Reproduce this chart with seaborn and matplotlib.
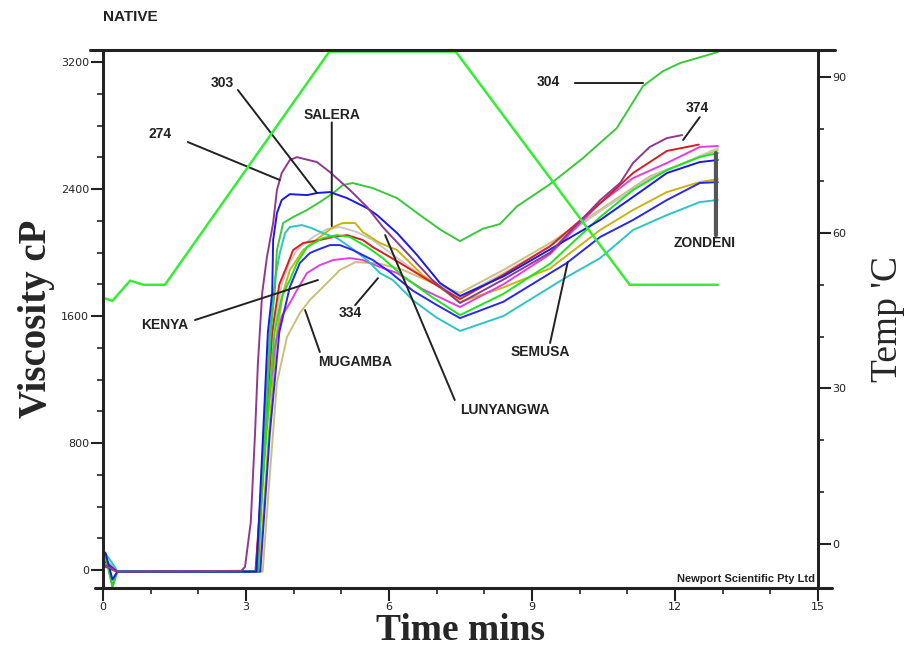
import matplotlib
matplotlib.use("Agg")
import matplotlib.pyplot as plt
import seaborn as sns
from matplotlib.ticker import MultipleLocator

# Viskositaet (cP) ueber Zeit (min)
t_274 = [0.05, 0.3, 2.9, 2.98, 3.1, 3.19, 3.25, 3.34, 3.44, 3.57, 3.65, 3.75, 3.92, 4.07, 4.49, 4.76, 5.18, 5.54, 5.87, 6.38, 6.9, 7.49, 8.4, 9.38, 10.43, 10.85, 11.12, 11.47, 11.83, 12.15]
v_274 = [30, -10, -5, 20, 300, 860, 1300, 1745, 1972, 2186, 2394, 2501, 2583, 2601, 2570, 2507, 2394, 2287, 2161, 1997, 1830, 1682, 1830, 2000, 2330, 2438, 2564, 2665, 2721, 2740]

t_303 = [0.05, 0.2, 0.3, 3.22, 3.36, 3.46, 3.55, 3.57, 3.65, 3.75, 3.92, 4.28, 4.49, 4.76, 5.12, 5.54, 5.75, 6.17, 6.59, 7.07, 7.49, 8.4, 9.38, 10.43, 11.12, 11.83, 12.52, 12.9]
v_303 = [110, -60, -10, -10, 860, 1500, 1745, 2079, 2249, 2331, 2368, 2362, 2375, 2381, 2343, 2280, 2236, 2123, 1984, 1808, 1726, 1850, 2020, 2205, 2350, 2501, 2570, 2583]

t_304 = [0.05, 0.2, 0.3, 3.25, 3.4, 3.52, 3.61, 3.65, 3.78, 3.99, 4.28, 4.55, 4.83, 5.03, 5.24, 5.66, 6.17, 6.65, 7.1, 7.49, 7.97, 8.33, 8.68, 9.38, 10.07, 10.78, 11.33, 11.75, 12.11, 12.9]
v_304 = [90, -110, -10, -10, 860, 1500, 1783, 2016, 2186, 2224, 2268, 2318, 2375, 2425, 2438, 2406, 2343, 2236, 2140, 2072, 2150, 2180, 2290, 2431, 2595, 2784, 3049, 3143, 3194, 3263]

t_cyan = [0.05, 0.25, 0.3, 3.25, 3.38, 3.5, 3.62, 3.71, 3.82, 3.92, 4.17, 4.38, 4.61, 4.91, 5.18, 5.54, 5.81, 6.08, 6.5, 7.0, 7.49, 8.4, 9.73, 10.43, 11.12, 11.83, 12.52, 12.9]
v_cyan = [105, 20, -10, -10, 860, 1500, 1850, 1997, 2123, 2161, 2173, 2154, 2123, 2091, 2035, 1953, 1871, 1827, 1700, 1590, 1506, 1600, 1846, 1965, 2142, 2236, 2318, 2331]

t_salera = [0.05, 0.3, 3.22, 3.42, 3.57, 3.75, 3.9, 4.07, 4.41, 4.7, 4.97, 5.33, 5.66, 6.2, 6.8, 7.49, 8.4, 9.38, 10.43, 11.47, 12.9]
v_salera = [40, -10, -10, 860, 1500, 1800, 1930, 2016, 2098, 2148, 2161, 2129, 2079, 1960, 1830, 1720, 1870, 2040, 2260, 2470, 2658]

t_yellow = [0.05, 0.3, 3.28, 3.48, 3.65, 3.78, 3.92, 4.2, 4.55, 4.83, 5.03, 5.29, 5.45, 5.81, 6.17, 6.7, 7.49, 8.4, 9.38, 10.43, 11.12, 11.83, 12.52, 12.9]
v_yellow = [60, -10, -10, 860, 1500, 1750, 1890, 2016, 2098, 2161, 2186, 2186, 2129, 2060, 2016, 1860, 1688, 1780, 1900, 2142, 2268, 2381, 2444, 2463]

t_red = [0.05, 0.3, 3.2, 3.4, 3.55, 3.7, 3.85, 3.99, 4.2, 4.55, 4.83, 5.12, 5.45, 5.66, 6.2, 6.8, 7.49, 8.4, 9.38, 10.43, 11.12, 11.83, 12.25, 12.5]
v_red = [20, -10, -10, 860, 1500, 1800, 1909, 2016, 2060, 2079, 2098, 2110, 2079, 2035, 1940, 1830, 1707, 1860, 2040, 2310, 2501, 2640, 2665, 2680]

t_green = [0.05, 0.2, 0.3, 3.22, 3.43, 3.6, 3.75, 3.92, 4.07, 4.28, 4.61, 4.91, 5.18, 5.54, 5.87, 6.3, 6.9, 7.49, 8.4, 9.38, 10.43, 11.12, 11.83, 12.52, 12.9]
v_green = [100, -100, -10, -10, 860, 1500, 1720, 1827, 1934, 2035, 2091, 2110, 2098, 2035, 1965, 1850, 1720, 1606, 1740, 1930, 2224, 2394, 2520, 2602, 2627]

t_blue2 = [0.05, 0.3, 3.3, 3.5, 3.7, 3.92, 4.13, 4.34, 4.49, 4.76, 4.97, 5.24, 5.66, 6.02, 6.5, 7.0, 7.49, 8.4, 9.73, 10.43, 11.12, 11.83, 12.52, 12.9]
v_blue2 = [50, -10, -10, 860, 1500, 1783, 1934, 1997, 2016, 2047, 2047, 2016, 1953, 1877, 1760, 1670, 1587, 1690, 1934, 2098, 2205, 2331, 2438, 2444]

t_kenya = [0.05, 0.3, 3.2, 3.42, 3.6, 3.75, 3.92, 4.07, 4.28, 4.55, 4.83, 5.18, 5.45, 5.81, 6.17, 6.7, 7.49, 8.4, 9.38, 10.43, 11.12, 11.83, 12.52, 12.9]
v_kenya = [30, -10, -10, 860, 1400, 1600, 1682, 1764, 1871, 1921, 1953, 1965, 1953, 1909, 1871, 1770, 1657, 1800, 1990, 2312, 2469, 2564, 2665, 2671]

t_mugamba = [0.05, 0.3, 3.35, 3.5, 3.65, 3.86, 4.13, 4.34, 4.7, 4.97, 5.3, 5.8, 6.3, 6.9, 7.49, 8.4, 9.38, 10.43, 11.47, 12.9]
v_mugamba = [70, -10, -10, 600, 1180, 1468, 1619, 1701, 1808, 1890, 1940, 1930, 1890, 1810, 1745, 1890, 2060, 2270, 2480, 2646]

# Temperatur (°C)
t_temp = [0.0, 0.2, 0.35, 0.57, 0.85, 1.3, 4.75, 7.4, 11.05, 12.9]
v_temp = [47.5, 46.9, 48.5, 50.8, 50.0, 50.0, 95.0, 95.0, 50.0, 50.0]

curves = [
    (t_mugamba, v_mugamba, "#CDBE7A"),
    (t_salera, v_salera, "#C8C8C8"),
    (t_yellow, v_yellow, "#C8B414"),
    (t_kenya, v_kenya, "#E040E0"),
    (t_red, v_red, "#D42020"),
    (t_cyan, v_cyan, "#2EC4C4"),
    (t_green, v_green, "#1EE61E"),
    (t_blue2, v_blue2, "#2828F0"),
    (t_304, v_304, "#3CC83C"),
    (t_303, v_303, "#1A1AE6"),
    (t_274, v_274, "#8E3A8E"),
]

sns.set_style("white")
plt.rcParams['font.family'] = ['DejaVu Sans']
narrow = ['Liberation Sans Narrow', 'Liberation Sans', 'DejaVu Sans']
serif = ['Liberation Serif', 'DejaVu Serif']

fig = plt.figure(figsize=(9.17, 6.51), dpi=100)
ax = fig.add_axes([0.1123, 0.0968, 0.7797, 0.8264])

for t, v, c in curves:
    sns.lineplot(x=t, y=v, ax=ax, color=c, lw=1.4, estimator=None, sort=False)

ax.set_xlim(0, 15)
ax.set_ylim(-113, 3276)
ax.set_xticks(range(0, 16, 3))
ax.xaxis.set_minor_locator(MultipleLocator(1))
ax.set_yticks([0, 800, 1600, 2400, 3200])
ax.yaxis.set_minor_locator(MultipleLocator(200))
ax.tick_params(axis='both', which='major', direction='out', length=9, width=1.5,
               labelsize=8, pad=1, colors='#222222')
ax.tick_params(axis='both', which='minor', direction='out', length=4, width=1.2,
               colors='#222222')
ax.tick_params(left=True, bottom=True, which='both')

# Temperaturachse rechts
ax2 = ax.twinx()
sns.lineplot(x=t_temp, y=v_temp, ax=ax2, color="#33EE33", lw=1.8, estimator=None, sort=False)
ax2.set_ylim(-8.5, 95.3)
ax2.set_yticks([0, 30, 60, 90])
ax2.yaxis.set_minor_locator(MultipleLocator(10))
ax2.tick_params(axis='y', which='major', direction='out', length=9, width=1.5,
                labelsize=8, pad=1, colors='#222222', right=True)
ax2.tick_params(axis='y', which='minor', direction='out', length=4, width=1.2,
                colors='#222222', right=True)

for a in (ax, ax2):
    for s in a.spines.values():
        s.set_linewidth(2)
        s.set_color('#222222')

# Verlaengerte obere/untere Linien
ax.plot([-0.018, 1.024], [1, 1], transform=ax.transAxes, color='#222222', lw=2.2, clip_on=False)
ax.plot([-0.011, 1.020], [0, 0], transform=ax.transAxes, color='#222222', lw=2.2, clip_on=False)

ax.set_xlabel('Time mins', fontsize=27, fontweight='bold', family=serif, labelpad=1)
ax.set_ylabel('Viscosity cP', fontsize=28, fontweight='bold', family=serif, labelpad=4)
ax2.set_ylabel("Temp 'C", fontsize=27, family=serif, labelpad=18)

fig.text(130 / 917, 1 - 17 / 651, 'NATIVE', fontsize=11, fontweight='bold', family=narrow,
         ha='center', va='center', color='#222222')
ax.text(0.996, 0.008, 'Newport Scientific Pty Ltd', transform=ax.transAxes, fontsize=8,
        fontweight='bold', family=narrow, ha='right', va='bottom', color='#222222')

# Beschriftungen mit Hinweislinien
leaders = [
    ((2.83, 3024), (4.49, 2375)),
    ((1.78, 2696), (3.71, 2457)),
    ((4.80, 2820), (4.80, 2167)),
    ((9.90, 3068), (11.33, 3068)),
    ((12.52, 2853), (12.17, 2709)),
    ((1.93, 1575), (4.51, 1827)),
    ((5.29, 1669), (5.77, 1839)),
    ((4.55, 1373), (4.24, 1638)),
    ((7.38, 1071), (5.92, 2110)),
    ((9.38, 1430), (9.75, 1940)),
]
for (x0, y0), (x1, y1) in leaders:
    ax.annotate('', xy=(x1, y1), xytext=(x0, y0),
                arrowprops=dict(arrowstyle='-', color='#222222', lw=1.4, shrinkA=0, shrinkB=0))
ax.annotate('', xy=(12.86, 2110), xytext=(12.86, 2627),
            arrowprops=dict(arrowstyle='-', color='#555555', lw=3, shrinkA=0, shrinkB=0))

labels = [
    ('303', 2.50, 3068), ('274', 1.20, 2746), ('SALERA', 4.80, 2866), ('304', 9.34, 3074),
    ('374', 12.46, 2910), ('ZONDENI', 12.63, 2060), ('KENYA', 1.30, 1543), ('334', 5.18, 1619),
    ('MUGAMBA', 5.29, 1310), ('LUNYANGWA', 8.43, 1008), ('SEMUSA', 9.17, 1373),
]
for txt, x, y in labels:
    ax.text(x, y, txt, fontsize=10, fontweight='bold', family=narrow,
            ha='center', va='center', color='#222222')

plt.savefig('out.png', dpi=100)
